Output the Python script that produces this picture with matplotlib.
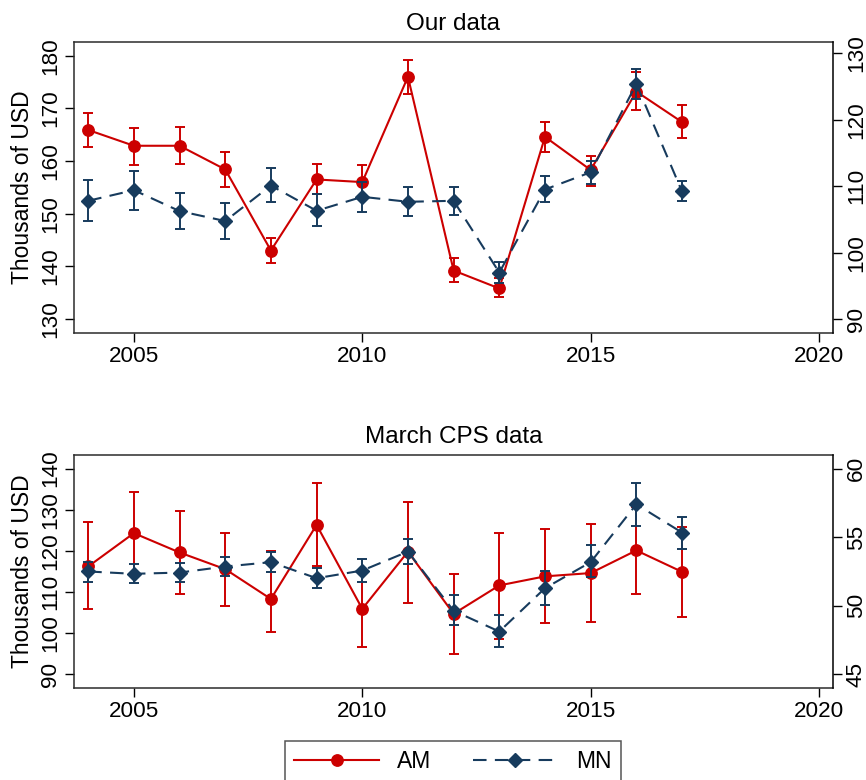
"""
AM / MN 年度对比: 上图为自有数据, 下图为 March CPS
左轴 AM, 右轴 MN, 带误差线
"""
import matplotlib
matplotlib.use('Agg')
import matplotlib.pyplot as plt
from matplotlib.lines import Line2D
import numpy as np

plt.rcParams['font.family'] = ['Liberation Sans', 'DejaVu Sans']

years = [2004, 2005, 2006, 2007, 2008, 2009, 2010, 2011, 2012, 2013, 2014, 2015, 2016, 2017]

# 上图: Our data
our_am = [165.9, 162.9, 162.9, 158.4, 143.0, 156.5, 156.0, 176.0, 139.2, 135.8, 164.6, 158.3, 173.2, 167.4]
our_am_hi = [169.1, 166.3, 166.4, 161.8, 145.3, 159.4, 159.2, 179.2, 141.5, 137.7, 167.5, 161.0, 177.0, 170.6]
our_am_lo = [162.7, 159.3, 159.4, 155.1, 140.7, 153.8, 153.0, 172.7, 137.1, 134.2, 161.8, 155.3, 169.6, 164.3]
our_mn = [107.8, 109.4, 106.25, 104.75, 110.1, 106.3, 108.4, 107.65, 107.8, 97.0, 109.5, 112.1, 125.4, 109.2]
our_mn_hi = [110.9, 112.3, 109.0, 107.5, 112.7, 108.8, 110.6, 109.9, 109.9, 98.6, 111.5, 113.8, 127.6, 110.8]
our_mn_lo = [104.7, 106.4, 103.6, 102.1, 107.6, 103.95, 106.1, 105.5, 105.65, 95.45, 107.6, 110.4, 123.2, 107.7]

# 下图: March CPS data
cps_am = [116.2, 124.3, 119.6, 115.55, 108.3, 126.3, 105.9, 119.8, 104.7, 111.6, 113.8, 114.6, 120.1, 114.9]
cps_am_hi = [126.9, 134.3, 129.8, 124.45, 120.0, 136.45, 115.2, 131.8, 114.3, 124.45, 125.3, 126.6, 130.7, 125.9]
cps_am_lo = [105.9, 114.3, 109.5, 106.7, 100.25, 116.2, 96.6, 107.4, 94.9, 98.6, 102.4, 102.8, 109.5, 104.0]
cps_mn = [52.5, 52.33, 52.42, 52.86, 53.18, 52.01, 52.57, 53.95, 49.63, 48.12, 51.28, 53.18, 57.4, 55.34]
cps_mn_hi = [53.2, 53.05, 53.1, 53.59, 53.95, 52.78, 53.4, 54.88, 50.8, 49.29, 52.54, 54.44, 58.94, 56.5]
cps_mn_lo = [51.76, 51.65, 51.7, 52.18, 52.45, 51.28, 51.7, 53.03, 48.6, 46.98, 50.07, 52.13, 55.82, 54.15]

RED = '#CC0000'
NAVY = '#173B5D'
DASH = (0, (6.5, 4))
TICK_FS = 16.2


def draw_panel(ax, title, am, am_lo, am_hi, mn, mn_lo, mn_hi, left_lim, left_ticks, right_lim, right_ticks):
    x = np.array(years)
    am, mn = np.array(am), np.array(mn)
    am_err = [am - np.array(am_lo), np.array(am_hi) - am]
    mn_err = [mn - np.array(mn_lo), np.array(mn_hi) - mn]

    ax.errorbar(x, am, yerr=am_err, color=RED, ecolor=RED, lw=1.5, elinewidth=1.4,
                capsize=3.9, capthick=1.4, marker='o', ms=8.2, zorder=3)
    ax.set_ylim(left_lim)
    ax.set_yticks(left_ticks)
    ax.set_xlim(2003.69, 2020.3)
    ax.set_xticks([2005, 2010, 2015, 2020])
    ax.set_ylabel('Thousands of USD', fontsize=16.5, labelpad=4)
    ax.set_title(title, fontsize=17.5, pad=8.5)

    ax2 = ax.twinx()
    ax2.errorbar(x, mn, yerr=mn_err, color=NAVY, ecolor=NAVY, lw=1.5, elinewidth=1.4,
                 capsize=3.9, capthick=1.4, marker='D', ms=7.4, linestyle=DASH, zorder=3)
    ax2.set_ylim(right_lim)
    ax2.set_yticks(right_ticks)

    ax.tick_params(axis='both', direction='out', length=6.5, width=1.0, labelsize=TICK_FS, pad=3)
    ax.tick_params(axis='y', labelrotation=90)
    ax2.tick_params(axis='y', direction='out', length=6.5, width=1.0, labelsize=TICK_FS, pad=3,
                    labelrotation=90)
    for lab in ax.get_yticklabels() + ax2.get_yticklabels():
        lab.set_va('center')

    for s in ['left', 'top', 'bottom']:
        ax.spines[s].set_color('#2b2b2b')
        ax.spines[s].set_linewidth(1.1)
    ax.spines['right'].set_visible(False)
    for s in ['left', 'top', 'bottom']:
        ax2.spines[s].set_visible(False)
    ax2.spines['right'].set_color('black')
    ax2.spines['right'].set_linewidth(1.1)
    return ax2


fig = plt.figure(figsize=(8.66, 7.8), dpi=100)
ax_top = fig.add_axes([0.0855, 0.5727, 0.8761, 0.3738])
ax_bot = fig.add_axes([0.0855, 0.1176, 0.8761, 0.2991])

draw_panel(ax_top, 'Our data', our_am, our_am_lo, our_am_hi, our_mn, our_mn_lo, our_mn_hi,
           (127.28, 182.66), [130, 140, 150, 160, 170, 180],
           (87.85, 131.75), [90, 100, 110, 120, 130])
draw_panel(ax_bot, 'March CPS data', cps_am, cps_am_lo, cps_am_hi, cps_mn, cps_mn_lo, cps_mn_hi,
           (86.6, 143.3), [90, 100, 110, 120, 130, 140],
           (43.98, 61.0), [45, 50, 55, 60])

handles = [
    Line2D([], [], color=RED, lw=1.5, marker='o', ms=8.2),
    Line2D([], [], color=NAVY, lw=1.5, marker='D', ms=7.4, linestyle=DASH),
]
leg = fig.legend(handles, ['AM', 'MN'], loc='upper center', bbox_to_anchor=(0.523, 1 - 740.7 / 780),
                 ncol=2, fontsize=16.5, frameon=True, fancybox=False, handlelength=3.7,
                 handletextpad=0.8, columnspacing=1.8, borderpad=0.42, borderaxespad=0)
leg.get_frame().set_edgecolor('#2b2b2b')
leg.get_frame().set_linewidth(1.1)

plt.savefig('out.png', dpi=100)
